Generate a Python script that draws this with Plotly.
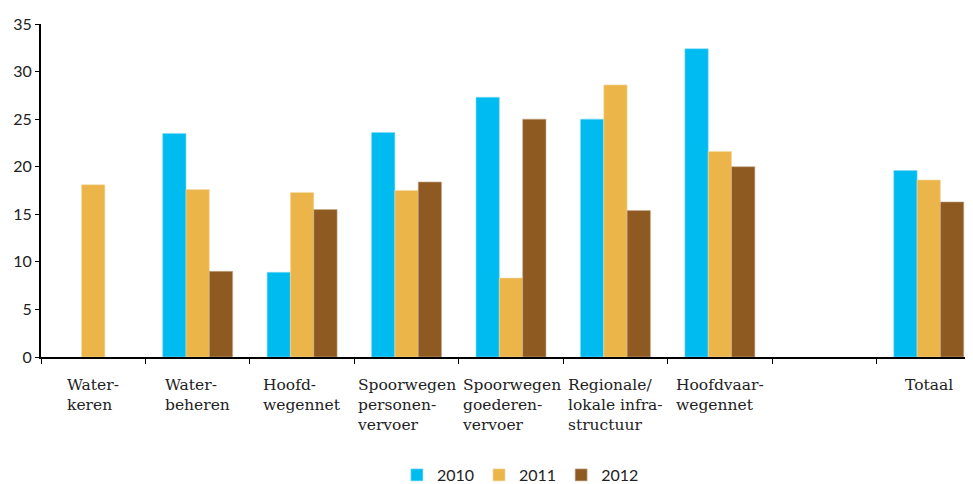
import plotly.graph_objects as go

categories = ["Waterkeren", "Waterbeheren", "Hoofdwegennet", "Spoorwegen personenvervoer",
              "Spoorwegen goederenvervoer", "Regionale/lokale infrastructuur",
              "Hoofdvaarwegennet", " ", "Totaal"]
tick_labels = ["Water-<br>keren", "Water-<br>beheren", "Hoofd-<br>wegennet",
               "Spoorwegen<br>personen-<br>vervoer", "Spoorwegen<br>goederen-<br>vervoer",
               "Regionale/<br>lokale infra-<br>structuur", "Hoofdvaar-<br>wegennet", "", "Totaal"]
years = ["2010", "2011", "2012"]
values_2010 = [None, 23.5, 8.9, 23.6, 27.3, 25.0, 32.4, None, 19.6]
values_2011 = [18.1, 17.6, 17.3, 17.5, 8.3, 28.6, 21.6, None, 18.6]
values_2012 = [None, 9.0, 15.5, 18.4, 25.0, 15.4, 20.0, None, 16.3]

colors = ["#00BBF0", "#EBB54A", "#8E5A22"]
edges = ["#7FDCF7", "#F5DAA4", "#C6AC90"]

fig = go.Figure()
for year, vals, c, e in zip(years, [values_2010, values_2011, values_2012], colors, edges):
    fig.add_trace(go.Bar(
        x=categories, y=vals, name=year,
        marker=dict(color=c, line=dict(color=e, width=0.6))
    ))

# category labels, left-aligned lines like the original
for cat, lab in zip(categories, tick_labels):
    if lab:
        fig.add_annotation(
            x=cat, y=0, yref="y", text=lab, showarrow=False,
            xanchor="center", yanchor="top", yshift=-17, align="left",
            font=dict(family="DejaVu Serif", size=15.5, color="#222222")
        )

fig.update_xaxes(
    type="category", range=[-0.5, 8.5], showticklabels=False, automargin=False,
    ticks="outside", tickson="boundaries", ticklen=5, tickcolor="black",
    showline=True, linecolor="black", linewidth=2, showgrid=False
)
fig.update_yaxes(
    range=[0, 35], dtick=5, ticks="outside", ticklen=4, tickcolor="black", automargin=False,
    showline=True, linecolor="black", linewidth=2, showgrid=False, zeroline=False,
    tickfont=dict(family="Lato", size=16, color="#222222")
)
# page body adds an 8px offset, margins compensate for it
fig.update_layout(
    width=973, height=484,
    margin=dict(l=33, r=0, t=16, b=134),
    plot_bgcolor="white", paper_bgcolor="white",
    barmode="group", bargap=0.33, bargroupgap=0,
    showlegend=True,
    legend=dict(orientation="h", x=0.51, xanchor="center", y=-0.353, yanchor="middle",
                font=dict(family="Lato", size=16, color="#222222"),
                itemwidth=30, traceorder="normal")
)

fig.write_html("out.html")
